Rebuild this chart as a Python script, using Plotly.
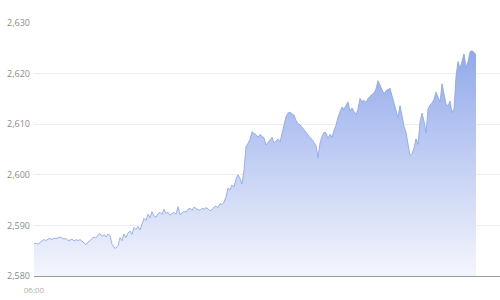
import plotly.graph_objects as go

tick_labels = ["06:00"]
tick_positions = [0]

prices = [
    # 34-60
    2586.4, 2586.5, 2586.3, 2586.7, 2586.9, 2587.2, 2587.0, 2587.3, 2587.4, 2587.2, 2587.5, 2587.4, 2587.6, 2587.7,
    # 62-90
    2587.5, 2587.3, 2587.4, 2587.0, 2587.1, 2587.3, 2586.9, 2587.2, 2587.0, 2587.2, 2586.9, 2586.6, 2586.2, 2586.7, 2587.1,
    # 92-110
    2587.3, 2587.7, 2587.5, 2588.1, 2588.4, 2587.8, 2588.2, 2587.7, 2588.3, 2588.0,
    # 112-140
    2586.3, 2585.6, 2585.5, 2586.0, 2587.6, 2587.0, 2588.3, 2587.6, 2588.5, 2588.9, 2588.2, 2589.6, 2589.2, 2589.8, 2589.1,
    # 142-168
    2590.5, 2591.4, 2591.0, 2592.2, 2591.5, 2592.7, 2591.9, 2591.6, 2592.3, 2592.6, 2592.2, 2593.2, 2592.4, 2592.6,
    # 170-204
    2592.0, 2592.3, 2592.6, 2592.2, 2593.7, 2592.1, 2592.4, 2592.8, 2592.6, 2593.2, 2593.4, 2593.0, 2593.6, 2593.3,
    2593.1, 2593.0, 2593.4, 2593.2,
    # 206-244
    2593.5, 2593.3, 2592.9, 2593.1, 2593.6, 2593.8, 2593.5, 2594.3, 2594.1, 2594.6, 2595.6, 2597.4, 2597.0, 2598.0,
    2597.6, 2599.2, 2600.0, 2599.3, 2598.2, 2601.0,
    # 246-280
    2605.6, 2606.2, 2607.0, 2608.5, 2608.2, 2607.9, 2607.4, 2608.0, 2607.6, 2607.3, 2605.9, 2606.4, 2606.9, 2607.4,
    2606.3, 2606.8, 2607.1, 2606.5,
    # 282-316
    2608.0, 2610.0, 2611.5, 2612.2, 2612.4, 2612.0, 2611.8, 2610.8, 2610.1, 2609.9, 2609.4, 2609.0, 2608.6, 2607.9,
    2607.3, 2607.0, 2606.4, 2605.8,
    # 318-356
    2603.4, 2606.3, 2607.6, 2608.4, 2608.3, 2607.2, 2608.0, 2607.4, 2608.8, 2609.8, 2611.4, 2612.6, 2613.4, 2613.0,
    2613.8, 2614.4, 2612.6, 2613.2, 2612.5, 2611.9,
    # 358-396
    2613.0, 2615.1, 2614.5, 2614.7, 2614.3, 2615.1, 2615.5, 2615.9, 2616.2, 2617.0, 2618.6, 2617.7, 2616.8, 2616.0,
    2616.6, 2616.9, 2617.1, 2615.6, 2614.0, 2612.4,
    # 398-436
    2611.3, 2613.7, 2611.2, 2609.6, 2608.4, 2605.6, 2603.8, 2604.2, 2605.3, 2607.1, 2606.0, 2610.4, 2612.2, 2610.6,
    2608.3, 2613.0, 2613.8, 2614.2, 2614.9, 2616.3,
    # 438-476
    2615.2, 2614.4, 2618.0, 2616.2, 2614.0, 2613.6, 2614.6, 2612.3, 2613.0, 2619.5, 2622.4, 2621.0, 2622.3, 2623.9,
    2621.2, 2622.4, 2624.3, 2624.5, 2624.2, 2623.7,
]

x_vals = list(range(len(prices)))
x_max = (len(prices) - 1) * 466 / 442

fig = go.Figure()
fig.add_trace(go.Scatter(
    x=x_vals,
    y=prices,
    mode="lines",
    line=dict(color="#86a2e8", width=0.8),
    fill="tozeroy",
    fillgradient=dict(
        type="vertical",
        start=2580,
        stop=max(prices),
        colorscale=[[0, "rgba(244,246,253,1)"], [1, "rgba(146,169,235,1)"]],
    ),
    hoverinfo="skip",
))

fig.update_layout(
    width=500,
    height=300,
    margin=dict(l=34, r=0, t=23, b=24),
    paper_bgcolor="white",
    plot_bgcolor="white",
    showlegend=False,
    font=dict(family="Open Sans", size=9, color="#8c8c8c"),
)
fig.update_xaxes(
    range=[0, x_max],
    showgrid=False,
    zeroline=False,
    showline=True,
    linecolor="#9a9a9a",
    linewidth=1.2,
    tickvals=tick_positions,
    ticktext=tick_labels,
    tickfont=dict(size=8, color="#b0b0b0"),
    ticks="",
    ticklabelstandoff=6,
)
fig.update_yaxes(
    range=[2580, 2630],
    dtick=10,
    tickformat=",",
    showgrid=True,
    gridcolor="#eceef3",
    gridwidth=1,
    zeroline=False,
    showline=False,
    ticks="",
    ticklabelstandoff=3,
    tickfont=dict(size=9, color="#8c8c8c"),
)

fig.write_html("out.html")
